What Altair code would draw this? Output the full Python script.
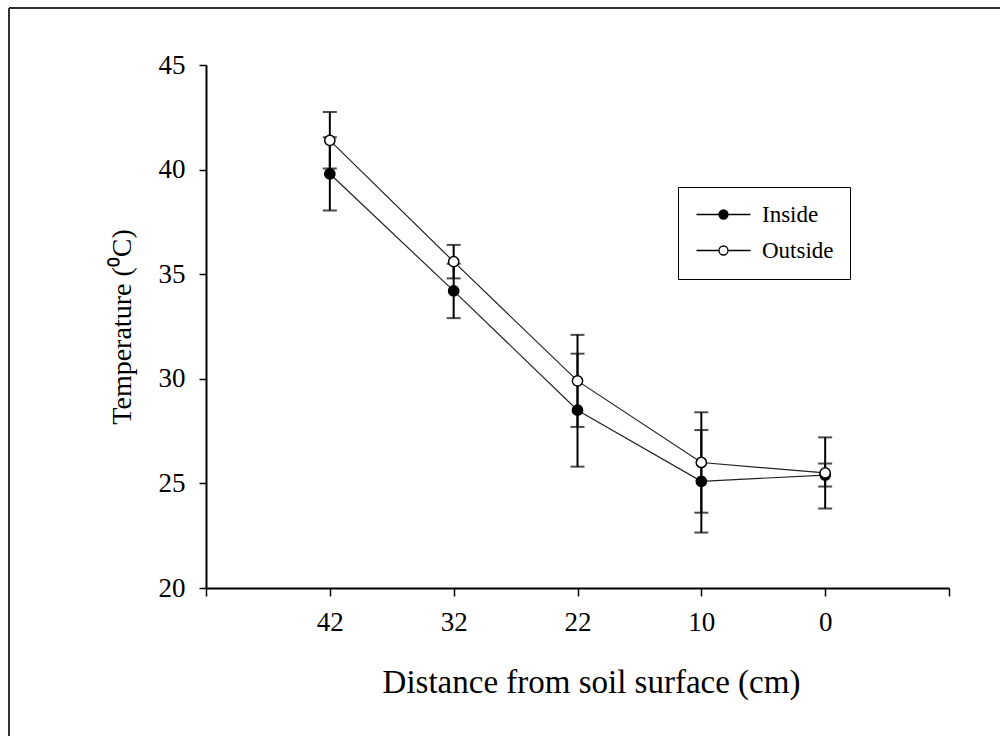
import altair as alt
import pandas as pd

# ---- data ----
depth_labels = ["42", "32", "22", "10", "0"]
series_names = ["Inside", "Outside"]
inside_mean = [39.8, 34.2, 28.5, 25.1, 25.4]
inside_err = [1.75, 1.3, 2.7, 2.45, 0.55]
outside_mean = [41.4, 35.6, 29.9, 26.0, 25.5]
outside_err = [1.35, 0.8, 2.2, 2.4, 1.7]
y_ticks = [20, 25, 30, 35, 40, 45]

rows = []
for name, means, errs in zip(series_names, [inside_mean, outside_mean], [inside_err, outside_err]):
    for i, (lab, m, e) in enumerate(zip(depth_labels, means, errs)):
        rows.append(dict(series=name, pos=i + 1, depth=lab, mean=m, lo=m - e, hi=m + e))
df = pd.DataFrame(rows)

FONT = "Liberation Serif"
n_slots = len(depth_labels) + 1
label_expr = "[''," + ",".join("'%s'" % d for d in depth_labels) + ",''][datum.value]"

W, H = 743, 523
PAD_L, PAD_T, PAD_R, PAD_B = 206, 65, 51, 148

x_enc = alt.X(
    "pos:Q",
    scale=alt.Scale(domain=[0, n_slots], nice=False, zero=False),
    axis=alt.Axis(
        values=list(range(n_slots + 1)),
        labelExpr=label_expr,
        title="Distance from soil surface (cm)",
        grid=False,
        tickSize=8,
        tickWidth=1.5,
        domainWidth=2,
        labelPadding=13,
        titlePadding=31,
        titleX=385,
        labelFontSize=27,
        titleFontSize=33,
        labelOverlap=False,
        labelFlush=False,
    ),
)
y_enc = alt.Y(
    "mean:Q",
    scale=alt.Scale(domain=[y_ticks[0], y_ticks[-1]], nice=False, zero=False),
    axis=alt.Axis(
        values=y_ticks,
        title="Temperature (\u2070C)",
        grid=False,
        tickSize=7,
        tickWidth=1.5,
        domainWidth=2,
        labelPadding=14,
        titlePadding=22,
        labelFontSize=27,
        titleFontSize=28,
    ),
)

base = alt.Chart(df)

lines = base.mark_line(color="#222", strokeWidth=1.2).encode(
    x=x_enc, y=y_enc, detail="series:N"
)
bars = base.mark_rule(color="black", strokeWidth=2).encode(
    x="pos:Q", y="lo:Q", y2="hi:Q"
)
cap_lo = base.mark_tick(orient="horizontal", size=14, thickness=2, color="black").encode(
    x="pos:Q", y="lo:Q"
)
cap_hi = base.mark_tick(orient="horizontal", size=14, thickness=2, color="black").encode(
    x="pos:Q", y="hi:Q"
)

legend_path = (
    "M-3,0L-0.5,0M0.5,0L3,0"
    "M-0.5,0A0.5,0.5,0,1,0,0.5,0A0.5,0.5,0,1,0,-0.5,0Z"
)
points = base.mark_point(
    filled=True, shape="circle", size=105, stroke="black", strokeWidth=1.5, opacity=1
).encode(
    x="pos:Q",
    y="mean:Q",
    fill=alt.Fill(
        "series:N",
        scale=alt.Scale(domain=series_names, range=["black", "white"]),
        legend=alt.Legend(
            title=None,
            orient="none",
            legendX=472,
            legendY=122,
            symbolType=legend_path,
            symbolSize=324,
            symbolStrokeColor="black",
            symbolStrokeWidth=1.3,
            symbolOffset=18,
            labelFont=FONT,
            labelFontSize=23,
            labelColor="black",
            labelOffset=27,
            rowPadding=12,
            padding=16,
            strokeColor="black",
            fillColor="white",
        ),
    ),
)

frame_df = pd.DataFrame({"k": [0]})
frame_top = alt.Chart(frame_df).mark_rule(color="#333", strokeWidth=2).encode(
    x=alt.value(9 - PAD_L), x2=alt.value(1000 - PAD_L), y=alt.value(8 - PAD_T)
)
frame_left = alt.Chart(frame_df).mark_rule(color="#333", strokeWidth=2).encode(
    x=alt.value(9 - PAD_L), y=alt.value(8 - PAD_T), y2=alt.value(736 - PAD_T)
)

chart = (
    alt.layer(frame_top, frame_left, lines, bars, cap_lo, cap_hi, points)
    .properties(
        width=W,
        height=H,
        autosize=alt.AutoSizeParams(type="none"),
        padding={"left": PAD_L, "top": PAD_T, "right": PAD_R, "bottom": PAD_B},
        background="white",
    )
    .configure_view(stroke=None)
    .configure_axis(
        labelFont=FONT,
        titleFont=FONT,
        titleFontWeight="normal",
        labelColor="black",
        titleColor="black",
        domainColor="black",
        tickColor="black",
    )
)

chart.save("out.html", embed_options={"renderer": "svg", "actions": False})
